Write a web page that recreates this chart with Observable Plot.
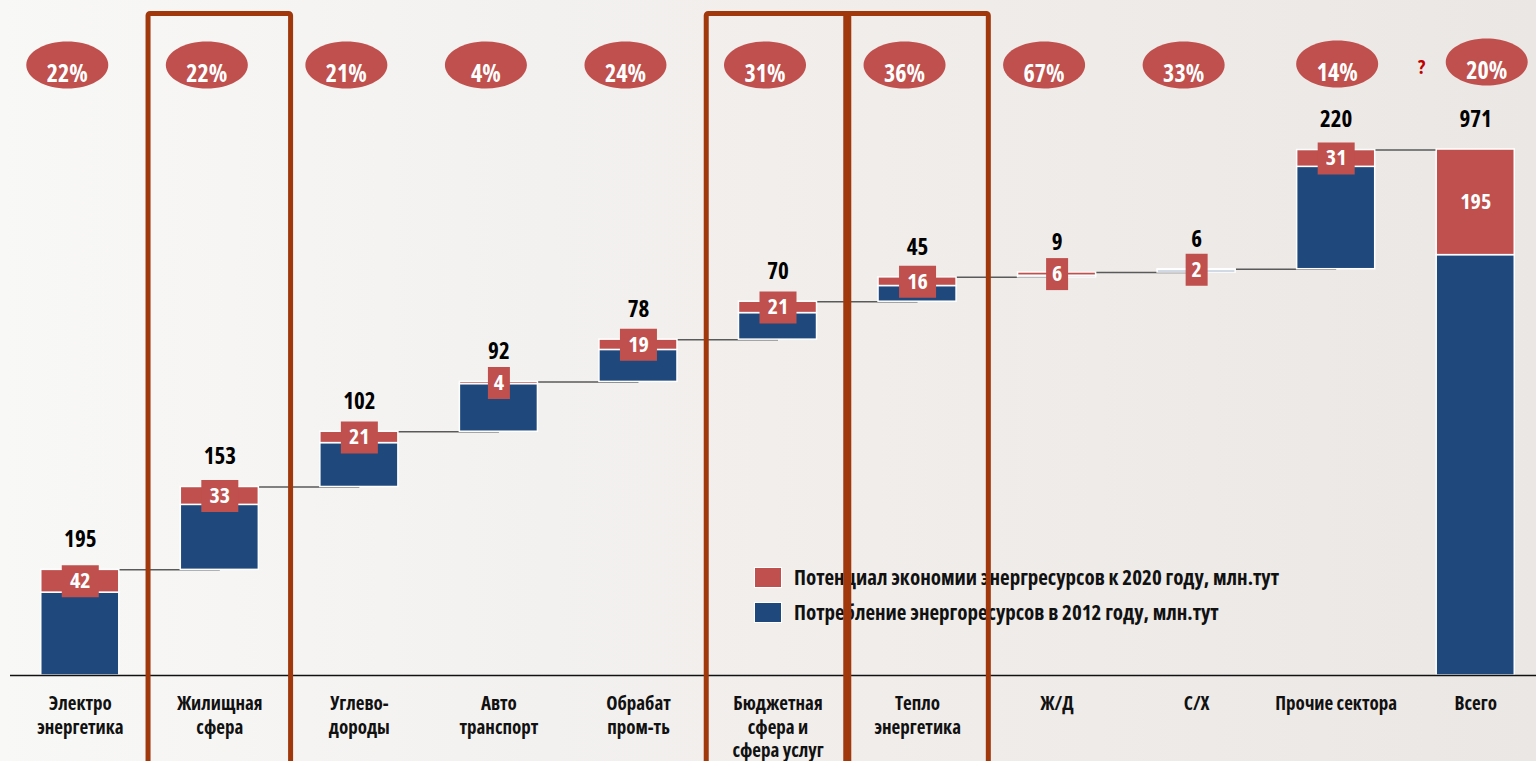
<!DOCTYPE html>
<html>
<head>
<meta charset="utf-8">
<script src="https://cdn.jsdelivr.net/npm/d3@7"></script>
<script src="https://cdn.jsdelivr.net/npm/@observablehq/plot@0.6"></script>
<style>
  html, body { margin: 0; padding: 0; width: 1536px; height: 761px; overflow: hidden; }
  body {
    background: linear-gradient(to right, #f8f8f7 0%, #f1eeec 50%, #ebe7e4 100%);
    font-family: 'Open Sans', 'DejaVu Sans Condensed', sans-serif;
    font-stretch: 75%;
    position: relative;
  }
  #legend { position: absolute; left: 754px; top: 566px; z-index: 0; font-size: 21px; font-weight: bold; color: #111; }
  #legend .item { display: flex; align-items: center; height: 22px; margin-bottom: 13px; white-space: nowrap; }
  #legend .sw { width: 28px; height: 21px; border: 1px solid #fff; margin-right: 12px; box-sizing: border-box; flex: none; }
  #chart { position: absolute; left: 0; top: 0; z-index: 1; }
  #chart svg { background: transparent; overflow: visible; font-stretch: 75%; }
</style>
</head>
<body>
<div id="legend"></div>
<div id="chart"></div>
<script>
const categories = ["Электро\nэнергетика", "Жилищная\nсфера", "Углево-\nдороды", "Авто\nтранспорт", "Обрабат\nпром-ть", "Бюджетная\nсфера и\nсфера услуг", "Тепло\nэнергетика", "Ж/Д", "С/Х", "Прочие сектора", "Всего"];
const consumption = [195, 153, 102, 92, 78, 70, 45, 9, 6, 220, 971];
const savings = [42, 33, 21, 4, 19, 21, 16, 6, 2, 31, 195];
const shares = ["22%", "22%", "21%", "4%", "24%", "31%", "36%", "67%", "33%", "14%", "20%"];
const highlighted = ["Жилищная\nсфера", "Бюджетная\nсфера и\nсфера услуг", "Тепло\nэнергетика"];
const legendItems = [
  {label: "Потенциал экономии энергресурсов к 2020 году, млн.тут", color: "#c0504d"},
  {label: "Потребление энергоресурсов в 2012 году, млн.тут", color: "#1f497d"}
];

const RED = "#c0504d", BLUE = "#1f497d", BOX = "#a0380c";
const FONT = "'Open Sans','DejaVu Sans Condensed',sans-serif";

let acc = 0;
const rows = categories.map((cat, i) => {
  const isTotal = i === categories.length - 1;
  const start = isTotal ? 0 : acc;
  if (!isTotal) acc += consumption[i];
  const end = start + consumption[i];
  return {cat, start, end, split: end - savings[i], save: savings[i], total: consumption[i], share: shares[i], isTotal, next: categories[i + 1]};
});
const steps = rows.filter(d => !d.isTotal);

const rectSym = (w, h) => ({draw(ctx) { ctx.rect(-w / 2, -h / 2, w, h); }});
const ellipseSym = (w, h) => ({draw(ctx) {
  const a = w / 2, b = h / 2, k = 0.5523;
  ctx.moveTo(a, 0);
  ctx.bezierCurveTo(a, b * k, a * k, b, 0, b);
  ctx.bezierCurveTo(-a * k, b, -a, b * k, -a, 0);
  ctx.bezierCurveTo(-a, -b * k, -a * k, -b, 0, -b);
  ctx.bezierCurveTo(a * k, -b, a, -b * k, a, 0);
  ctx.closePath();
}});

const barInset = 30.75;
const ellY = 51;
const ellipse = ellipseSym(82, 47);

// percentage badges: three groups with slightly different horizontal offsets, as in the original slide
const badgeGroups = [
  {data: rows.slice(0, 9), dx: -13, dy: ellY},
  {data: rows.slice(9, 10), dx: 1, dy: ellY - 1},
  {data: rows.slice(10), dx: 11, dy: ellY - 3}
];

const chart = Plot.plot({
  width: 1536,
  height: 761,
  marginTop: 13.5,
  marginBottom: -6,
  marginLeft: 10,
  marginRight: 0,
  style: {fontFamily: FONT, background: "transparent"},
  x: {type: "band", domain: categories, range: [10, 1545], padding: 0, round: false, axis: null},
  y: {domain: [0, 971], range: [675, 149], axis: null},
  marks: [
    Plot.link(steps.filter(d => d.next), {x1: "cat", x2: "next", y1: "end", y2: "end", stroke: "#5a5a5a", strokeWidth: 1.5}),
    Plot.barY(rows, {x: "cat", y1: "start", y2: "split", fill: BLUE, stroke: "#fff", strokeWidth: 1.5, insetLeft: barInset, insetRight: barInset}),
    Plot.barY(rows, {x: "cat", y1: "split", y2: "end", fill: RED, stroke: "#fff", strokeWidth: 1.5, insetLeft: barInset, insetRight: barInset}),
    Plot.ruleY([0], {stroke: "#111", strokeWidth: 1.5}),
    Plot.dot(steps.filter(d => d.save >= 10), {x: "cat", y: d => (d.split + d.end) / 2, symbol: rectSym(37, 32), fill: RED, stroke: "none"}),
    Plot.dot(steps.filter(d => d.save < 10), {x: "cat", y: d => (d.split + d.end) / 2, symbol: rectSym(22, 32), fill: RED, stroke: "none"}),
    Plot.text(rows, {x: "cat", y: d => (d.split + d.end) / 2, text: d => String(d.save), fill: "#fff", fontSize: 22, fontWeight: "bold"}),
    Plot.text(rows, {x: "cat", y: "end", text: d => String(d.total), dy: -30, fill: "#000", fontSize: 23, fontWeight: "bold"}),
    Plot.text(categories, {x: d => d, y: 0, text: d => d, dy: 18, lineAnchor: "top", lineHeight: 1.24, fill: "#111", fontSize: 19, fontWeight: "bold"}),
    Plot.cell(highlighted, {x: d => d, fill: "none", stroke: BOX, strokeWidth: 5, insetLeft: -1.5, insetRight: -1.5, rx: 2}),
    ...badgeGroups.flatMap(g => [
      Plot.dot(g.data, {x: "cat", frameAnchor: "top", dy: g.dy, dx: g.dx, symbol: ellipse, fill: RED, stroke: "none"}),
      Plot.text(g.data, {x: "cat", frameAnchor: "top", dy: g.dy, dx: g.dx, text: "share", fill: "#fff", fontSize: 24, fontWeight: "bold"})
    ]),
    Plot.text(["?"], {x: () => categories[categories.length - 1], frameAnchor: "top", dy: ellY - 5, dx: -54, text: d => d, fill: "#c00000", fontSize: 20, fontWeight: "bold"})
  ]
});
document.getElementById("chart").append(chart);

const legend = d3.select("#legend");
legendItems.forEach(d => {
  const it = legend.append("div").attr("class", "item");
  it.append("div").attr("class", "sw").style("background", d.color);
  it.append("span").text(d.label);
});
</script>
</body>
</html>
